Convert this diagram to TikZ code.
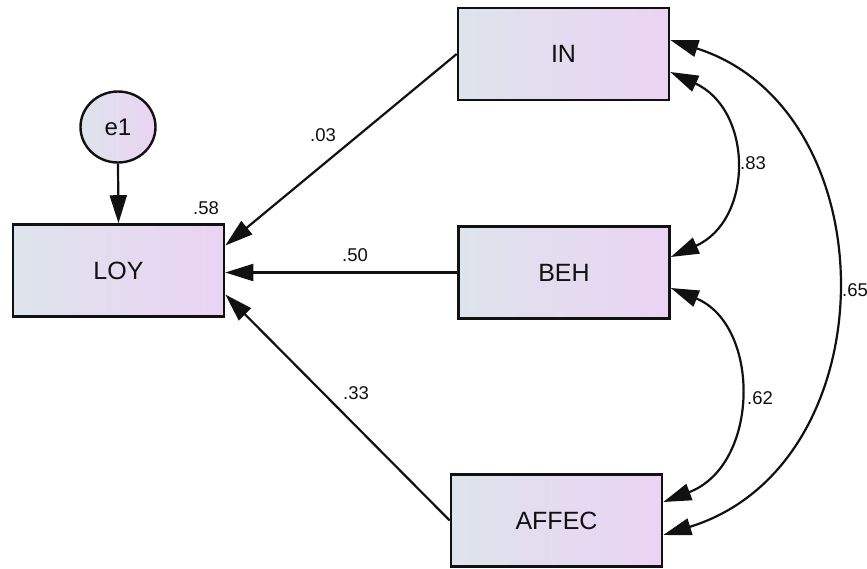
\documentclass[tikz,border=0pt]{standalone}
\usepackage{fontspec}
\setmainfont{Liberation Sans}
\usetikzlibrary{arrows.meta,shapes.geometric}
\definecolor{boxleft}{HTML}{DDE4EC}
\definecolor{boxright}{HTML}{EBD3F3}
\definecolor{inkcol}{HTML}{111111}
\begin{document}
\begin{tikzpicture}[x=1pt,y=-1pt,
  varbox/.style={rectangle, draw=inkcol, line width=2.6pt,
    left color=boxleft, right color=boxright,
    minimum width=211pt, minimum height=92pt, inner sep=0pt,
    font=\fontsize{25}{29}\selectfont, text=inkcol},
  errnode/.style={ellipse, draw=inkcol, line width=2.4pt,
    left color=boxleft, right color=boxright,
    minimum width=75pt, minimum height=71pt, inner sep=0pt,
    font=\fontsize{24}{28}\selectfont, text=inkcol},
  coef/.style={font=\fontsize{18.5}{21}\selectfont, text=inkcol, inner sep=0pt},
  path/.style={draw=inkcol, line width=2.2pt,
    -{Triangle[length=28pt,width=17pt]}},
  covpath/.style={draw=inkcol, line width=2.2pt,
    {Triangle[length=28pt,width=17pt]}-{Triangle[length=28pt,width=17pt]}}
]
\useasboundingbox[fill=white] (0,0) rectangle (867,568);

% observed variables
\node[varbox] (LOY)   at (118.5,270.5) {LOY};
\node[varbox] (IN)    at (563.5,54)    {IN};
\node[varbox] (BEH)   at (564,272.5)   {BEH};
\node[varbox] (AFFEC) at (556.5,520.5) {AFFEC};

% error term
\node[errnode] (e1) at (118,127) {e1};

% regression paths
\draw[path] (e1.south) -- (LOY.north);
\draw[path] (IN.west) -- ([yshift=25pt]LOY.east);
\draw[path] (BEH.west) -- (LOY.east |- BEH.west);
\draw[path] (AFFEC.west) -- ([yshift=-24pt]LOY.east);

% covariances
\draw[covpath] ([yshift=-18pt]IN.east) .. controls +(83,38) and +(83,-37) .. ([yshift=15.5pt]BEH.east);
\draw[covpath] ([yshift=-15.5pt]BEH.east) .. controls +(90,37) and +(97,-37) .. ([yshift=18.5pt]AFFEC.east);
\draw[covpath] ([yshift=14pt]IN.east) .. controls +(220,70) and +(227,-70) .. ([yshift=-14.5pt]AFFEC.east);

% estimates
\node[coef] (r2)   at (206,208) {.58};
\node[coef] (bIN)  at (323,135) {.03};
\node[coef] (bBEH) at (355,255) {.50};
\node[coef] (bAFF) at (356,393) {.33};
\node[coef] (cIB)  at (753,163) {.83};
\node[coef] (cBA)  at (760,398) {.62};
\node[coef] (cIA)  at (855,290) {.65};
\end{tikzpicture}
\end{document}
